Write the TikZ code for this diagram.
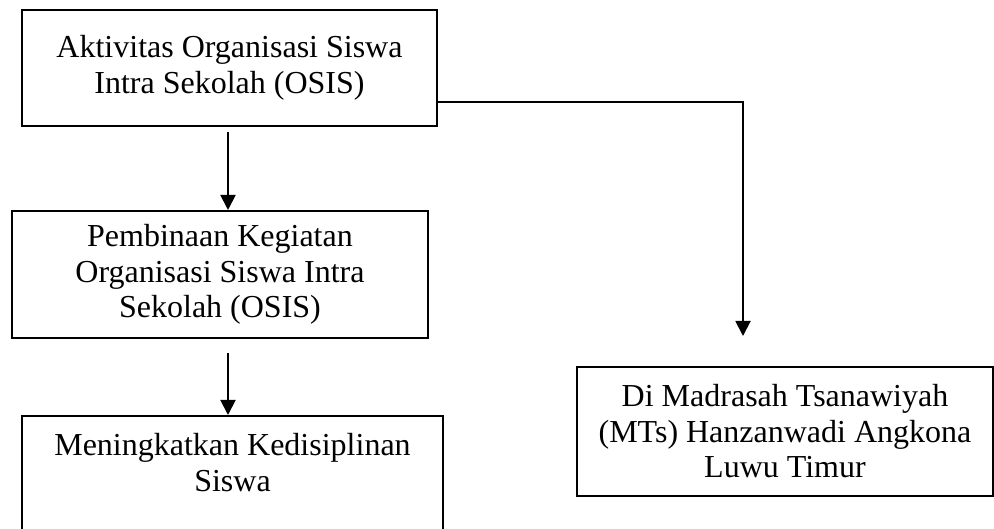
\documentclass[tikz,border=0pt]{standalone}
\usepackage{fontspec}
\setmainfont{Liberation Serif}
\usetikzlibrary{arrows.meta}

\begin{document}
\begin{tikzpicture}[x=1pt,y=-1pt,
	box/.style={draw=black,line width=2pt,inner sep=0pt,align=center,
		font=\fontsize{32}{35.5}\selectfont},
	flow/.style={draw=black,line width=1.9pt,-{Triangle[width=15pt,length=15pt]}}]
	
	\useasboundingbox (0,0) rectangle (994,529);
	
	\node[box,minimum width=415pt,minimum height=116pt] (osis) at(229.5,68)
		{Aktivitas Organisasi Siswa\\Intra Sekolah (OSIS)};
	
	\node[box,minimum width=416pt,minimum height=127pt] (bina) at(220,274.5)
		{Pembinaan Kegiatan\\Organisasi Siswa Intra\\Sekolah (OSIS)};
	
	\node[box,minimum width=421pt,minimum height=128pt] (disiplin) at(232.5,480)
		{Meningkatkan Kedisiplinan\\Siswa\\ };
	
	\node[box,minimum width=416pt,minimum height=129pt] (mts) at(785,431.5)
		{Di Madrasah Tsanawiyah\\(MTs) Hanzanwadi Angkona\\Luwu Timur};
	
	\draw[flow,shorten <=5pt] ([xshift=-1.5pt]osis.south) -- ([xshift=-1.5pt]osis.south |- bina.north);
	\draw[flow,shorten <=14pt] ([xshift=8pt]bina.south) -- ([xshift=8pt]bina.south |- disiplin.north);
	\draw[flow,shorten >=30pt] ([yshift=-34pt]osis.east) -| ([xshift=-42pt]mts.north);
	
\end{tikzpicture}
\end{document}
